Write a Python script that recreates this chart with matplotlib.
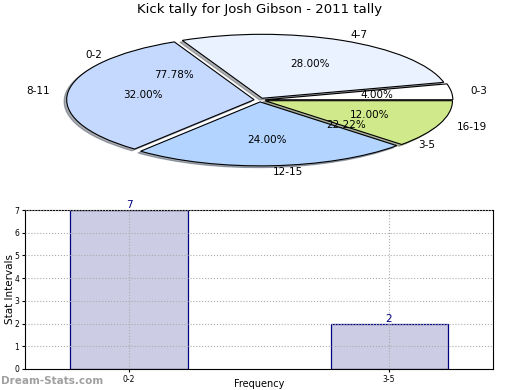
import numpy as np
import matplotlib
matplotlib.use('Agg')
import matplotlib.pyplot as plt

# pie data (kick tally by interval)
pie_labels = ['0-3', '4-7', '8-11', '12-15', '16-19']
pie_counts = [1, 7, 8, 6, 3]
pie_colors = ['#ffffff', '#eaf2ff', '#c5d8fd', '#b3d4ff', '#d0ea8b']

# second series (stat intervals)
bar_labels = ['0-2', '3-5']
bar_values = [7, 2]

fig = plt.figure(figsize=(5.2, 3.9), dpi=100)

fig.text(0.5, 1 - 10 / 390, 'Kick tally for Josh Gibson - 2011 tally',
         ha='center', va='center', fontsize=9.5)

# top: squashed pie
ax1 = fig.add_axes([16 / 520, 207.5 / 390, 487.5 / 520, 165 / 390])
ax1.pie(pie_counts, labels=pie_labels, colors=pie_colors, autopct='%.2f%%',
        explode=[0.03] * len(pie_counts),
        shadow={'ox': -0.01, 'oy': -0.02, 'shade': 0.6}, startangle=0,
        wedgeprops=dict(edgecolor='black', linewidth=0.8),
        textprops=dict(fontsize=7.5))
# overlay: labels of the bar series on the same pie, wedges hidden
wedges, _, _ = ax1.pie(bar_values, labels=bar_labels, autopct='%.2f%%',
                       startangle=0, textprops=dict(fontsize=7.5))
for w in wedges:
    w.set_visible(False)
ax1.set_aspect('auto')
ax1.set_xlim(-1.3, 1.3)
ax1.set_ylim(-1.29, 1.29)
ax1.axis('off')

# bottom: bar chart
ax2 = fig.add_axes([25 / 520, 21 / 390, 468 / 520, 159 / 390])
x = np.arange(len(bar_labels))
ax2.bar(x, bar_values, width=0.45, color='#ccccE4', edgecolor='#000080',
        linewidth=0.9, zorder=2)
for xi, v in zip(x, bar_values):
    ax2.text(xi, v, str(v), ha='center', va='bottom', color='#000080',
             fontsize=7.5)
ax2.set_xlim(-0.4, 1.4)
ax2.set_ylim(0, 7)
ax2.set_xticks(x)
ax2.set_xticklabels(bar_labels)
ax2.set_yticks(range(0, 8))
ax2.tick_params(labelsize=5.5, length=2, pad=2)
ax2.grid(True, linestyle=':', color='#aaaaaa', linewidth=0.8, zorder=3)
ax2.set_axisbelow(False)
ax2.set_ylabel('Stat Intervals', fontsize=7.5)
ax2.yaxis.set_label_coords(-10 / 468, 0.5)
ax2.set_xlabel('Frequency', fontsize=7)
ax2.xaxis.set_label_coords(0.5, -10 / 159)

fig.text(1 / 520, 1 - 381 / 390, 'Dream-Stats.com', ha='left', va='center',
         fontsize=7.5, color='#a0a0a0', fontweight='bold')

fig.savefig('out.png', dpi=100)
